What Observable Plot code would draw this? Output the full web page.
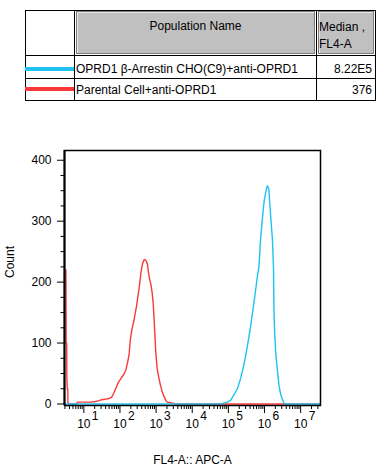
<!DOCTYPE html>
<html><head><meta charset="utf-8">
<script src="https://cdn.jsdelivr.net/npm/d3@7"></script>
<script src="https://cdn.jsdelivr.net/npm/@observablehq/plot@0.6"></script>
<style>
body{margin:0;background:#fff;font-family:"Liberation Sans",Arial,sans-serif;}
#wrap{position:relative;width:387px;height:476px;overflow:hidden;}
#wrap svg{position:absolute;left:0;top:0;}
.a{position:absolute;box-sizing:border-box;white-space:nowrap;font-size:12px;color:#000;}
</style></head><body><div id="wrap"></div>
<script>
// ---- table data ----
const headers = ["Population Name", "Median ,", "FL4-A"];
const populations = ["OPRD1 β-Arrestin CHO(C9)+anti-OPRD1", "Parental Cell+anti-OPRD1"];
const medians = ["8.22E5", "376"];
const colors = ["#1ec3f3", "#fb3838"];

// ---- histogram data (x as log10 of FL4-A, y = count) ----
const redLog   = [0.47,0.505,0.51,0.525,0.53,0.54,0.555,0.56,0.58,0.8,0.82,1.0,1.2,1.32,1.4,1.5,1.6,1.7,1.77,1.83,1.88,1.95,2.04,2.1,2.16,2.21,2.25,2.29,2.33,2.38,2.42,2.46,2.5,2.55,2.58,2.62,2.66,2.69,2.72,2.76,2.79,2.82,2.86,2.89,2.92,2.94,2.97,2.99,3.03,3.08,3.12,3.17,3.22,3.27,3.31,3.4,3.49,3.52,7.6];
const redCount = [220,220,100,100,45,25,25,3,0,0,3,3,3,4,5,7,8,9,11,18,25,35,43,48,55,68,80,107,122,135,148,161,178,199,215,229,236,237,235,230,215,205,195,183,165,145,110,85,58,42,31,20,12,6,3,2,1,0,0];
const cyanLog   = [0.4,4.8,4.83,4.97,5.06,5.155,5.25,5.34,5.43,5.53,5.62,5.71,5.8,5.85,5.89,5.94,5.99,6.03,6.06,6.08,6.1,6.12,6.17,6.22,6.25,6.26,6.28,6.31,6.36,6.4,6.45,6.54,6.59,7.6];
const cyanCount = [0,0,1,3,6,15,25,42,64,96,129,167,208,227,270,303,333,346,355,358,356,352,309,270,222,162,118,85,53,31,15,1,0,0];

// ---- axes ----
const xDomainLog = [0.465, 7.55];
const xDecades = [1,2,3,4,5,6,7];
const minorMult = [2,3,4,5,6,7,8,9];
const yMajor = [0,100,200,300,400];
const yMinor = [25,50,75,125,150,175,225,250,275,325,350,375];
const xTitle = "FL4-A:: APC-A";
const yTitle = "Count";

const red = redLog.map((l,i)=>({v:10**l, c:redCount[i]}));
const cyan = cyanLog.map((l,i)=>({v:10**l, c:cyanCount[i]}));
const lo = 10**xDomainLog[0], hi = 10**xDomainLog[1];
const xMinor = [];
for (let d = 0; d <= 7; d++) for (const m of minorMult) { const v = m*10**d; if (v>=lo && v<=hi) xMinor.push(v); }
const xMajor = xDecades.map(d=>10**d);

const chart = Plot.plot({
  width: 387, height: 476,
  marginLeft: 64, marginRight: 67, marginTop: 150, marginBottom: 71,
  x: {type: "log", domain: [lo, hi], axis: null},
  y: {domain: [-2.5, 416], axis: null},
  style: {fontFamily: "'Liberation Sans', Arial, sans-serif", fontSize: "12px", background: "transparent", color: "#000"},
  marks: [
    Plot.line(red, {x: "v", y: "c", stroke: colors[1], strokeWidth: 1.4, clip: true}),
    Plot.line(cyan, {x: "v", y: "c", stroke: colors[0], strokeWidth: 1.4, clip: true}),
    Plot.frame({stroke: "#000", strokeWidth: 1.5}),
    Plot.ruleX([lo], {stroke: "#000", strokeWidth: 2}),
    Plot.axisY({ticks: yMinor, tickSize: 3.5, tickFormat: () => "", label: null}),
    Plot.axisY({ticks: yMajor, tickSize: 7, tickPadding: 6, tickFormat: d => String(d), label: null, fontSize: 12}),
    Plot.axisX({ticks: xMinor, tickSize: 4, tickFormat: () => "", label: null}),
    Plot.axisX({ticks: xMajor, tickSize: 8, tickFormat: () => "", label: null}),
    Plot.text(xDecades, {x: d => 10**d, frameAnchor: "bottom", dy: 22.5, text: () => "10", fontSize: 12}),
    Plot.text(xDecades, {x: d => 10**d, frameAnchor: "bottom", dy: 14.5, dx: 8, textAnchor: "start", text: d => String(d), fontSize: 12}),
    Plot.text([xTitle], {frameAnchor: "bottom", dy: 58, text: d => d, fontSize: 12}),
    Plot.text([yTitle], {frameAnchor: "left", dx: -54, rotate: -90, text: d => d, fontSize: 12})
  ]
});
const wrap = document.getElementById("wrap");
wrap.appendChild(chart);

// ---- table overlay ----
function box(css, text) {
  const d = document.createElement("div");
  d.className = "a";
  d.style.cssText += css;
  if (text != null) d.textContent = text;
  wrap.appendChild(d);
  return d;
}
box("left:25px;top:10px;width:351px;height:91px;border:1px solid #000;");
box("left:74px;top:10px;width:1px;height:91px;background:#000;");
box("left:316px;top:10px;width:1px;height:91px;background:#000;");
box("left:25px;top:55px;width:351px;height:1px;background:#000;");
box("left:25px;top:78px;width:351px;height:1px;background:#000;");
box("left:76px;top:11px;width:239px;height:43px;background:#c0c0c0;border:1px solid #7c7c7c;box-shadow:inset 1px 1px 0 #e6e6e6;");
box("left:318px;top:11px;width:56px;height:43px;background:#c0c0c0;border:1px solid #7c7c7c;box-shadow:inset 1px 1px 0 #e6e6e6;");
box("left:76px;top:18px;width:239px;line-height:16px;text-align:center;", headers[0]);
box("left:319px;top:19px;line-height:16px;", headers[1]);
box("left:319px;top:36px;line-height:16px;", headers[2]);
const rowCenters = [69.3, 89.5];
rowCenters.forEach((cy, i) => {
  box(`left:25px;top:${cy-2.5}px;width:49px;height:4px;background:${colors[i]};`);
  box(`left:76px;top:${cy-8}px;line-height:16px;`, populations[i]);
  box(`left:318px;top:${cy-8}px;width:54px;line-height:16px;text-align:right;`, medians[i]);
});
</script></body></html>
